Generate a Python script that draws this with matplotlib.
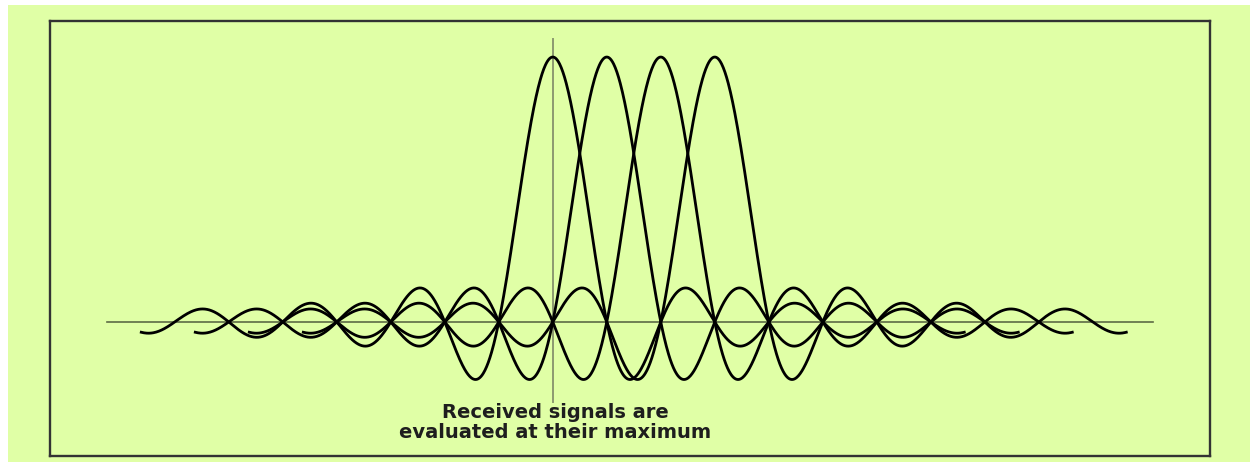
import numpy as np
import matplotlib
matplotlib.use('Agg')
import matplotlib.pyplot as plt
from matplotlib.patches import Rectangle

# subcarrier centres (in units of carrier spacing) and how far each sinc runs
centres = [0, 1, 2, 3]
half_span = [7.62, 7.62, 7.62, 7.62]
peak = 1.0
caption = 'Received signals are\nevaluated at their maximum'

bg = '#e0ffa6'

fig = plt.figure(figsize=(12.5, 4.64), dpi=100)
fig.patches.append(Rectangle((8/1250, 1/464), 1 - 8/1250, 457/464,
                             transform=fig.transFigure, facecolor=bg,
                             edgecolor='none', zorder=-10))

ax = fig.add_axes([50/1250, 7/464, 1160/1250, 435/464])
ax.set_facecolor(bg)
for s in ax.spines.values():
    s.set_color('#333333')
    s.set_linewidth(1.7)
ax.set_xticks([])
ax.set_yticks([])

ax.set_xlim(-9.31, 12.17)
ax.set_ylim(-0.506, 1.136)

# axes of the diagram
ax.plot([-8.26, 11.11], [0, 0], color='#5d6b45', lw=1.2, zorder=2)
ax.plot([0, 0], [1.068, -0.302], color='#8c9a70', lw=1.4, zorder=2)

for c, h in zip(centres, half_span):
    x = np.linspace(c - h, c + h, 1500)
    ax.plot(x, peak * np.sinc(x - c), color='black', lw=2.0, zorder=3)

ax.text(0.04, -0.376, caption, ha='center', va='center', fontsize=14,
        fontweight='bold', family='DejaVu Sans', color='#1e1e1e',
        linespacing=1.06)

fig.savefig('out.png', dpi=100)
